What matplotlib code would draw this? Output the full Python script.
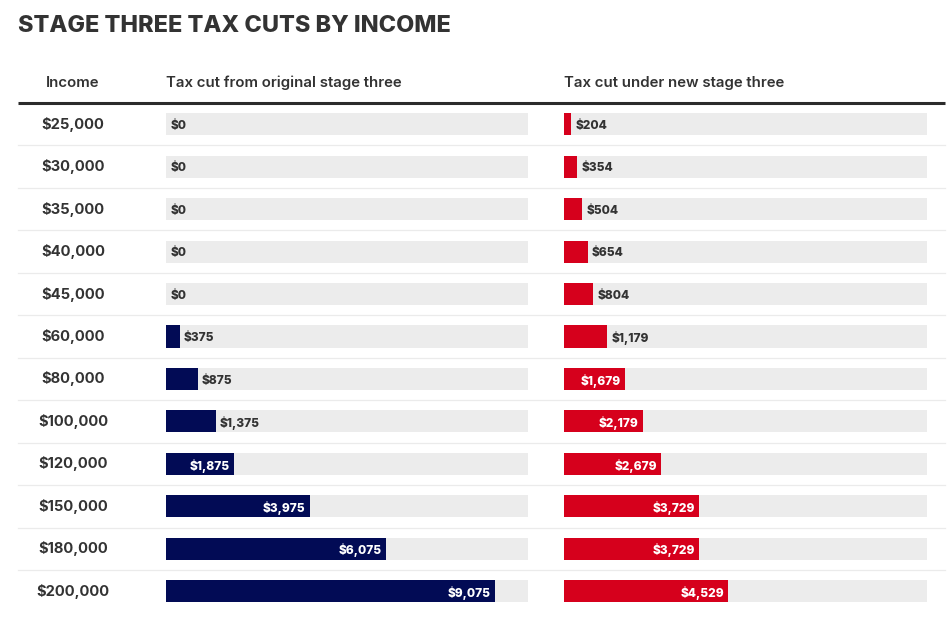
import matplotlib.pyplot as plt

# data
incomes = ['$25,000', '$30,000', '$35,000', '$40,000', '$45,000', '$60,000',
           '$80,000', '$100,000', '$120,000', '$150,000', '$180,000', '$200,000']
original_cut = [0, 0, 0, 0, 0, 375, 875, 1375, 1875, 3975, 6075, 9075]
new_cut = [204, 354, 504, 654, 804, 1179, 1679, 2179, 2679, 3729, 3729, 4529]
headers = ['Income', 'Tax cut from original stage three', 'Tax cut under new stage three']
title = 'STAGE THREE TAX CUTS BY INCOME'

navy = '#020b55'
red = '#d6001c'
track = '#ececec'
txt = '#333333'
plt.rcParams['font.family'] = ['Inter', 'DejaVu Sans']

W, H = 948, 626
fig = plt.figure(figsize=(W / 100, H / 100), dpi=100)

# layout axes in pixel coords
bg = fig.add_axes([0, 0, 1, 1])
bg.set_xlim(0, W)
bg.set_ylim(H, 0)
bg.axis('off')

top, row_h = 103, 42.45
n = len(incomes)

bg.text(18, 26, title, fontsize=16.9, fontweight='heavy', color=txt, va='center', ha='left')
bg.text(73, 83, headers[0], fontsize=10.8, fontweight='semibold', color=txt, va='center', ha='center')
bg.text(166, 83, headers[1], fontsize=10.8, fontweight='semibold', color=txt, va='center', ha='left')
bg.text(564, 83, headers[2], fontsize=10.8, fontweight='semibold', color=txt, va='center', ha='left')
bg.plot([18, 945], [top, top], color='#2b2b2b', lw=2.2, solid_capstyle='butt')

for i, inc in enumerate(incomes):
    yc = top + row_h * (i + 0.5)
    bg.text(73, yc, inc, fontsize=10.6, fontweight='bold', color=txt, va='center', ha='center')
    if i < n - 1:
        yl = top + row_h * (i + 1)
        bg.plot([18, 945], [yl, yl], color='#ebebeb', lw=0.9)


def bar_column(x0, x1, values, color):
    ax = fig.add_axes([x0 / W, 1 - (top + row_h * n) / H, (x1 - x0) / W, row_h * n / H])
    ax.set_xlim(0, 10000)
    ax.set_ylim(n - 0.5, -0.5)
    ax.axis('off')
    ys = list(range(n))
    ax.barh(ys, [10000] * n, height=0.52, color=track, left=0)
    ax.barh(ys, values, height=0.52, color=color, left=0)
    for y, v in zip(ys, values):
        label = f'${v:,}'
        if v >= 1500:
            ax.text(v - 120, y + 0.04, label, fontsize=8.6, fontweight='heavy', color='white',
                    va='center', ha='right')
        else:
            ax.text(v + 120, y + 0.04, label, fontsize=8.6, fontweight='heavy', color=txt,
                    va='center', ha='left')
    return ax


bar_column(166, 528, original_cut, navy)
bar_column(564, 927, new_cut, red)

fig.savefig('out.png', dpi=100)
